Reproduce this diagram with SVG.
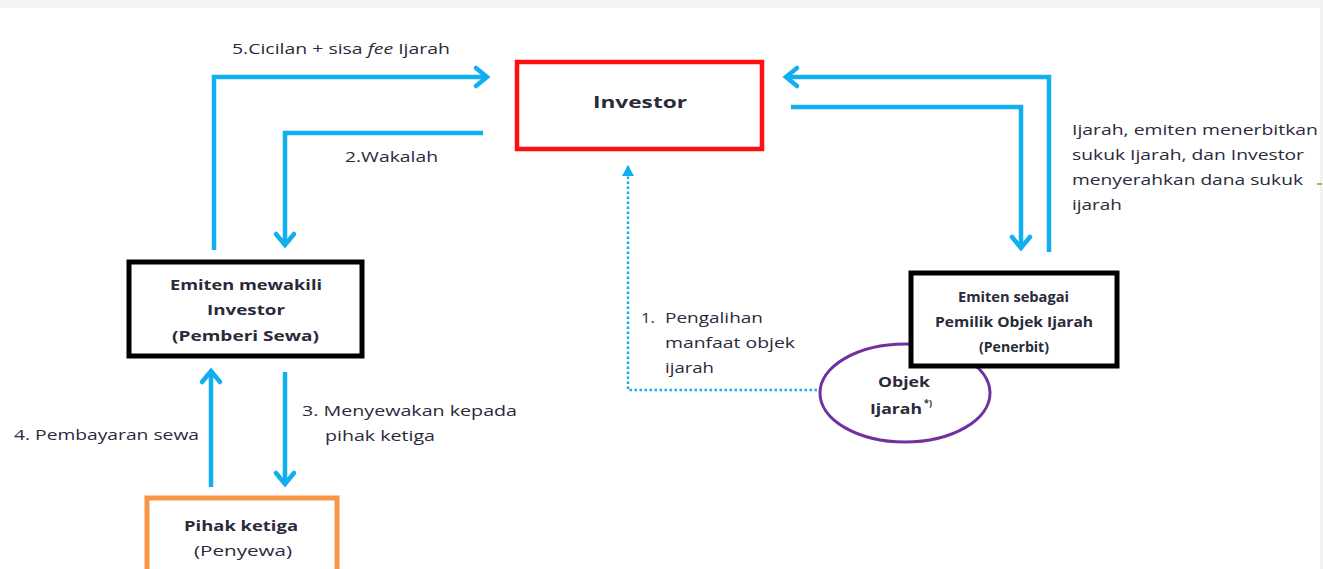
<svg xmlns="http://www.w3.org/2000/svg" width="1323" height="569" viewBox="0 0 1323 569">
<defs>
<marker id="chev" markerUnits="userSpaceOnUse" markerWidth="30" markerHeight="30" viewBox="-20 -15 30 30" refX="0" refY="0" orient="auto">
<path d="M -11,-9 L 0,0 L -11,9" fill="none" stroke="#12aeef" stroke-width="4.5" stroke-linejoin="miter" stroke-linecap="round"/>
</marker>
<marker id="tri" markerUnits="userSpaceOnUse" markerWidth="20" markerHeight="20" viewBox="-12 -8 20 16" refX="0" refY="0" orient="auto">
<path d="M -10,-6 L 1,0 L -10,6 Z" fill="#12aeef"/>
</marker>
</defs>
<style>
.t{font-family:"Open Sans","Noto Sans","Liberation Sans",sans-serif;font-size:15px;fill:#2a2a3a}
.b{font-weight:bold}
.con{fill:none;stroke:#12aeef;stroke-width:4.5}
</style>
<rect x="0" y="0" width="1323" height="569" fill="#ffffff"/>
<rect x="0" y="0" width="1323" height="8" fill="#f4f4f4"/>
<rect x="1320" y="0" width="3" height="569" fill="#f2f2f2"/>
<line x1="1317" y1="184" x2="1322" y2="184" stroke="#8aa02a" stroke-width="1.5"/>

<g id="connectors">
<polyline class="con" points="214,250 214,77 487,77" marker-end="url(#chev)"/>
<polyline class="con" points="483,133 285,133 285,245" marker-end="url(#chev)"/>
<polyline class="con" points="1049,252 1049,77 786,77" marker-end="url(#chev)"/>
<polyline class="con" points="791,107 1021,107 1021,248" marker-end="url(#chev)"/>
<line class="con" x1="211" y1="487" x2="211" y2="371" marker-end="url(#chev)"/>
<line class="con" x1="285" y1="372" x2="285" y2="484" marker-end="url(#chev)"/>
<polyline points="822,390 628,390 628,166" fill="none" stroke="#12aeef" stroke-width="2.5" stroke-dasharray="2.5,2.5" marker-end="url(#tri)"/>
<text class="t" x="232" y="54" textLength="218" lengthAdjust="spacingAndGlyphs">5.Cicilan + sisa <tspan font-style="italic">fee</tspan> Ijarah</text>
<text class="t" x="345" y="162" textLength="93" lengthAdjust="spacingAndGlyphs">2.Wakalah</text>
<text class="t" x="1072" y="135" textLength="246" lengthAdjust="spacingAndGlyphs">Ijarah, emiten menerbitkan</text>
<text class="t" x="1072" y="160" textLength="232" lengthAdjust="spacingAndGlyphs">sukuk Ijarah, dan Investor</text>
<text class="t" x="1072" y="185" textLength="231" lengthAdjust="spacingAndGlyphs">menyerahkan dana sukuk</text>
<text class="t" x="1072" y="210" textLength="50" lengthAdjust="spacingAndGlyphs">ijarah</text>
<text class="t" x="641" y="323" textLength="14" lengthAdjust="spacingAndGlyphs">1.</text>
<text class="t" x="665" y="323" textLength="98" lengthAdjust="spacingAndGlyphs">Pengalihan</text>
<text class="t" x="665" y="348" textLength="130" lengthAdjust="spacingAndGlyphs">manfaat objek</text>
<text class="t" x="665" y="373" textLength="49" lengthAdjust="spacingAndGlyphs">ijarah</text>
<text class="t" x="14" y="440" textLength="185" lengthAdjust="spacingAndGlyphs">4. Pembayaran sewa</text>
<text class="t" x="302" y="416" textLength="215" lengthAdjust="spacingAndGlyphs">3. Menyewakan kepada</text>
<text class="t" x="325" y="441" textLength="110" lengthAdjust="spacingAndGlyphs">pihak ketiga</text>
</g>

<g id="investor">
<rect x="517" y="62" width="245" height="87" fill="#ffffff" stroke="#ff1010" stroke-width="4.5"/>
<text class="t b" x="593" y="108" style="font-size:16px" textLength="94" lengthAdjust="spacingAndGlyphs">Investor</text>
</g>

<g id="objek-ijarah">
<ellipse cx="905" cy="393" rx="85" ry="49" fill="#ffffff" stroke="#7030a0" stroke-width="3"/>
<text class="t b" x="878" y="387" textLength="52" lengthAdjust="spacingAndGlyphs">Objek</text>
<text class="t b" x="870" y="414" textLength="52" lengthAdjust="spacingAndGlyphs">Ijarah</text>
<text class="t b" x="924" y="406" style="font-size:9px">*)</text>
</g>

<g id="emiten-penerbit">
<rect x="911" y="273" width="206" height="93" fill="#ffffff" stroke="#000000" stroke-width="5"/>
<text class="t b" x="958" y="302" textLength="111" lengthAdjust="spacingAndGlyphs">Emiten sebagai</text>
<text class="t b" x="935" y="327" textLength="158" lengthAdjust="spacingAndGlyphs">Pemilik Objek Ijarah</text>
<text class="t b" x="979" y="352" textLength="70" lengthAdjust="spacingAndGlyphs">(Penerbit)</text>
</g>

<g id="emiten-pemberi-sewa">
<rect x="129" y="262" width="233" height="94" fill="#ffffff" stroke="#000000" stroke-width="5"/>
<text class="t b" x="170" y="290" textLength="152" lengthAdjust="spacingAndGlyphs">Emiten mewakili</text>
<text class="t b" x="207" y="315" textLength="78" lengthAdjust="spacingAndGlyphs">Investor</text>
<text class="t b" x="172" y="341" textLength="147" lengthAdjust="spacingAndGlyphs">(Pemberi Sewa)</text>
</g>

<g id="pihak-ketiga">
<rect x="147" y="498" width="190" height="80" fill="#ffffff" stroke="#f79646" stroke-width="5"/>
<text class="t b" x="184" y="531" textLength="114" lengthAdjust="spacingAndGlyphs">Pihak ketiga</text>
<text class="t" x="194" y="556" textLength="98" lengthAdjust="spacingAndGlyphs">(Penyewa)</text>
</g>
</svg>
